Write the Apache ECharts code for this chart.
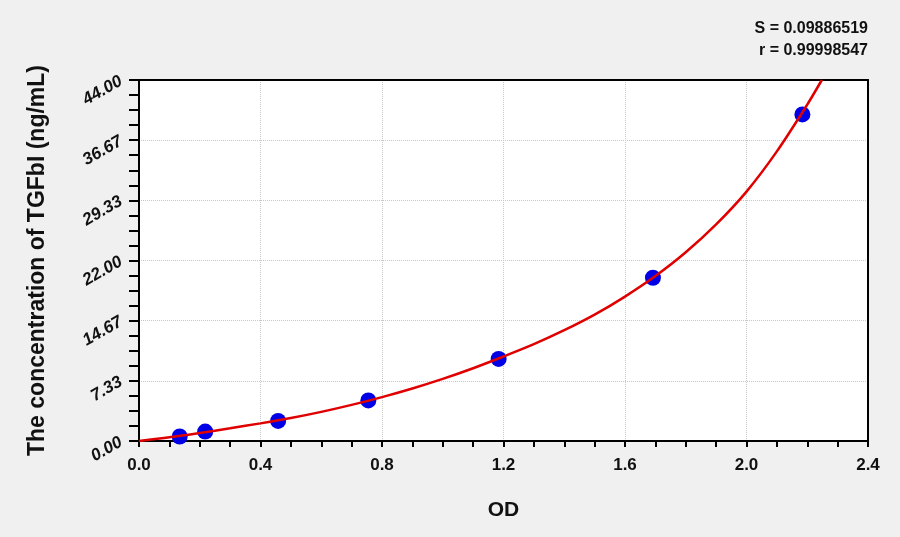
<!DOCTYPE html>
<html>
<head>
<meta charset="utf-8">
<script src="https://cdn.jsdelivr.net/npm/echarts@6/dist/echarts.min.js"></script>
<style>
html,body{margin:0;padding:0;background:#f0f0f0;}
#c{width:900px;height:537px;}
</style>
</head>
<body>
<div id="c"></div>
<script>
// Standard points (OD, concentration)
const pointOD = [0.134, 0.218, 0.458, 0.755, 1.184, 1.692, 2.184];
const pointConc = [0.55, 1.15, 2.45, 4.95, 10, 19.9, 39.8];
// Fitted curve
const curveOD = [0, 0.1, 0.2, 0.3, 0.4, 0.5, 0.6, 0.7, 0.8, 0.9, 1.0, 1.1, 1.2, 1.3, 1.4, 1.5, 1.6, 1.7, 1.8, 1.9, 2.0, 2.1, 2.2, 2.248];
const curveConc = [0, 0.45, 0.98, 1.55, 2.15, 2.80, 3.55, 4.40, 5.35, 6.40, 7.57, 8.87, 10.3, 11.8, 13.5, 15.4, 17.6, 20.1, 23.0, 26.4, 30.4, 35.3, 41.0, 44.0];
const xTicks = [0.0, 0.4, 0.8, 1.2, 1.6, 2.0, 2.4];
const yTicks = [0.00, 7.33, 14.67, 22.00, 29.33, 36.67, 44.00];
const statS = 'S = 0.09886519';
const statR = 'r = 0.99998547';
const xTitle = 'OD';
const yTitle = 'The concentration of TGFbI (ng/mL)';

const chart = echarts.init(document.getElementById('c'), null, {renderer: 'canvas'});
const fontFam = '"Liberation Sans", Arial, sans-serif';
const borderAxis = {
  axisLine: {show: true, onZero: false, lineStyle: {color: '#000', width: 2}},
  axisTick: {show: false}, minorTick: {show: false}, axisLabel: {show: false}, splitLine: {show: false}
};
chart.setOption({
  backgroundColor: '#f0f0f0',
  animation: false,
  graphic: [
    {type: 'text', right: 32, top: 21, style: {text: statS, font: 'bold 16px ' + fontFam, fill: '#111', textAlign: 'right'}},
    {type: 'text', right: 32, top: 43, style: {text: statR, font: 'bold 16px ' + fontFam, fill: '#111', textAlign: 'right'}}
  ],
  grid: {left: 139, right: 32, top: 80, bottom: 96, show: true, backgroundColor: '#ffffff', borderWidth: 0},
  xAxis: [{
    type: 'value', min: xTicks[0], max: xTicks[xTicks.length - 1], interval: 0.4,
    name: xTitle, nameLocation: 'middle', nameGap: 59,
    nameTextStyle: {fontFamily: fontFam, fontWeight: 'bold', fontSize: 21, color: '#111'},
    axisLine: {onZero: false, lineStyle: {color: '#000', width: 2}},
    axisTick: {show: true, inside: false, length: 6, lineStyle: {color: '#000', width: 2}},
    minorTick: {show: true, splitNumber: 4, length: 6, lineStyle: {color: '#000', width: 2}},
    axisLabel: {margin: 16, fontFamily: fontFam, fontWeight: 'bold', fontSize: 17, color: '#111',
      formatter: v => v.toFixed(1)},
    splitLine: {show: true, showMinLine: false, showMaxLine: false, lineStyle: {color: '#c8c8c8', type: 'dotted', width: 1}}
  }, Object.assign({type: 'value', position: 'top', min: 0, max: 2.4}, borderAxis)],
  yAxis: [{
    type: 'value', min: yTicks[0], max: yTicks[yTicks.length - 1], interval: 44 / 6,
    name: yTitle, nameLocation: 'middle', nameGap: 90, nameRotate: 90,
    nameTextStyle: {fontFamily: fontFam, fontWeight: 'bold', fontSize: 23, color: '#111'},
    axisLine: {show: true, onZero: false, lineStyle: {color: '#000', width: 2}},
    axisTick: {show: true, inside: false, length: 10, lineStyle: {color: '#000', width: 2}},
    minorTick: {show: true, splitNumber: 4, length: 10, lineStyle: {color: '#000', width: 2}},
    axisLabel: {margin: 18, rotate: 30, fontFamily: fontFam, fontWeight: 'bold', fontStyle: 'italic', fontSize: 17, color: '#111',
      formatter: v => v.toFixed(2)},
    splitLine: {show: true, showMinLine: false, showMaxLine: false, lineStyle: {color: '#c8c8c8', type: 'dotted', width: 1}}
  }, Object.assign({type: 'value', position: 'right', min: 0, max: 44}, borderAxis)],
  series: [
    {
      type: 'scatter', z: 2,
      data: pointOD.map((x, i) => [x, pointConc[i]]),
      symbol: 'circle', symbolSize: 16,
      itemStyle: {color: '#0000e6', borderWidth: 0, opacity: 1}
    },
    {
      type: 'line', z: 3, smooth: 0.3, showSymbol: false,
      data: curveOD.map((x, i) => [x, curveConc[i]]),
      lineStyle: {color: '#e00000', width: 2.5}
    }
  ]
});
</script>
</body>
</html>
